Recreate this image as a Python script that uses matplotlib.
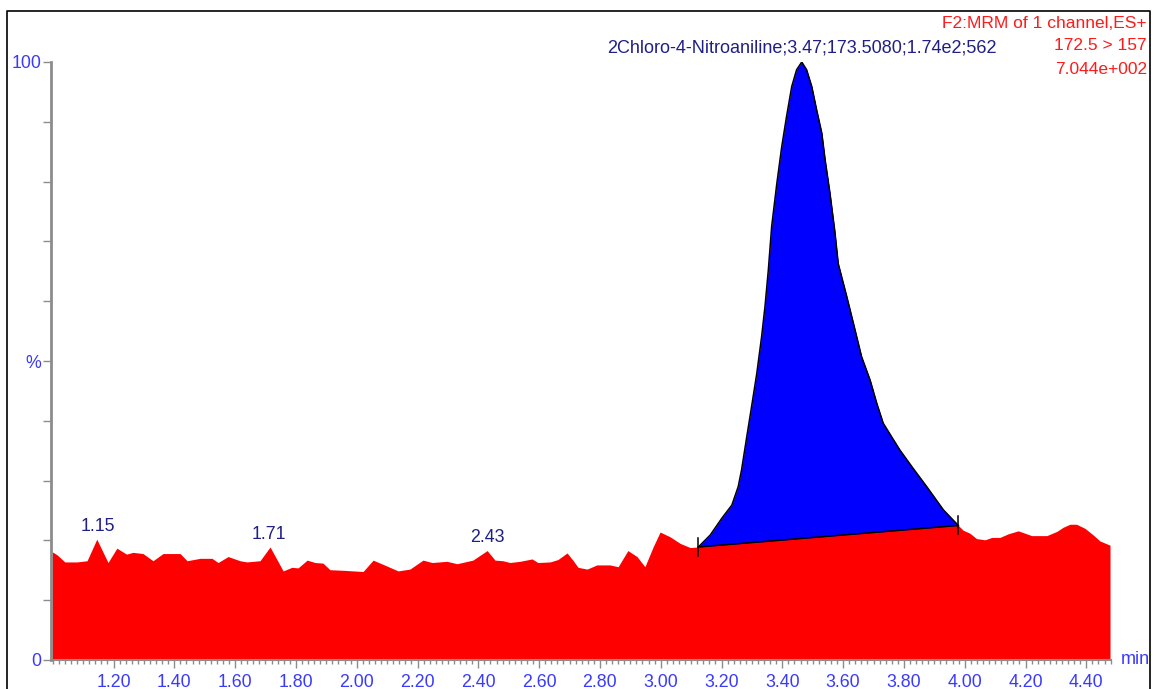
"""MRM chromatogram of 2-chloro-4-nitroaniline with integrated peak."""
import matplotlib
matplotlib.use("Agg")
import matplotlib.pyplot as plt
import numpy as np
from matplotlib.lines import Line2D

plt.rcParams["font.family"] = ["Liberation Sans", "DejaVu Sans"]

# retention time (min) and relative intensity (%)
rt = [0.998, 1.014, 1.040, 1.080, 1.113, 1.145, 1.182, 1.211, 1.243, 1.264,
      1.297, 1.330, 1.363, 1.419, 1.442, 1.485, 1.524, 1.544, 1.577, 1.616,
      1.639, 1.682, 1.715, 1.758, 1.787, 1.807, 1.837, 1.863, 1.889, 1.912,
      1.955, 2.021, 2.054, 2.100, 2.136, 2.175, 2.218, 2.248, 2.297, 2.330,
      2.382, 2.429, 2.455, 2.481, 2.504, 2.537, 2.577, 2.596, 2.636, 2.662,
      2.692, 2.711, 2.728, 2.758, 2.790, 2.833, 2.860, 2.892, 2.922, 2.948,
      2.975, 2.998, 3.031, 3.064, 3.097, 3.124, 3.163, 3.201, 3.234, 3.255,
      3.266, 3.283, 3.299, 3.316, 3.332, 3.343, 3.354, 3.365, 3.382, 3.398,
      3.414, 3.431, 3.447, 3.464, 3.480, 3.497, 3.513, 3.530, 3.541, 3.557,
      3.573, 3.584, 3.612, 3.634, 3.661, 3.689, 3.711, 3.732, 3.760, 3.787,
      3.831, 3.875, 3.930, 3.979, 3.995, 4.017, 4.039, 4.067, 4.089, 4.116,
      4.143, 4.176, 4.204, 4.220, 4.270, 4.303, 4.324, 4.346, 4.368, 4.396,
      4.423, 4.445, 4.478]
intensity = [18.1, 17.6, 16.4, 16.4, 16.6, 20.2, 16.3, 18.7, 17.7, 18.0,
             17.8, 16.6, 17.8, 17.8, 16.6, 17.0, 17.0, 16.3, 17.3, 16.6,
             16.4, 16.6, 18.9, 14.9, 15.5, 15.4, 16.7, 16.3, 16.2, 15.1,
             15.0, 14.8, 16.7, 15.7, 14.9, 15.2, 16.7, 16.3, 16.5, 16.1,
             16.7, 18.3, 16.7, 16.6, 16.3, 16.5, 16.9, 16.3, 16.4, 16.8,
             17.9, 16.7, 15.5, 15.2, 15.9, 15.9, 15.6, 18.3, 17.3, 15.6,
             18.9, 21.4, 20.6, 19.5, 18.8, 18.9, 20.9, 23.7, 25.9, 29.0,
             31.8, 37.3, 42.4, 47.9, 54.1, 59.1, 65.2, 72.5, 79.7, 85.8,
             90.9, 95.9, 98.7, 100.0, 98.7, 95.9, 92.0, 88.1, 83.6, 78.0,
             71.6, 66.3, 60.8, 56.3, 50.7, 46.8, 42.9, 39.6, 37.3, 35.1,
             32.0, 29.0, 25.1, 22.5, 21.7, 21.2, 20.3, 20.1, 20.5, 20.5,
             21.1, 21.6, 21.1, 20.8, 20.8, 21.5, 22.2, 22.7, 22.7, 22.0,
             20.9, 19.9, 19.2]

# integration limits (min) and baseline heights (%)
peak_start, peak_end = 3.124, 3.979
base_start, base_end = 18.9, 22.5

# labelled minor peaks
minor_rt = [1.15, 1.71, 2.43]
minor_height = [20.2, 18.9, 18.3]

peak_label = "2Chloro-4-Nitroaniline;3.47;173.5080;1.74e2;562"
header = ["F2:MRM of 1 channel,ES+", "172.5 > 157", "7.044e+002"]

x_major = np.round(np.arange(1.2, 4.41, 0.2), 2)

TRACE_RED = "#ff0000"
PEAK_BLUE = "#0000ff"
LABEL_NAVY = "#1f1f86"
TICK_BLUE = "#3a3aff"
AXIS_GREY = "#8c8c8c"
FS = 12.8

W, H = 1157, 689
fig = plt.figure(figsize=(W / 100, H / 100), dpi=100)

xlim = (0.995, 4.482)
px_per_min = 304.0
left_px = 113.5 + (xlim[0] - 1.2) * px_per_min
right_px = 113.5 + (xlim[1] - 1.2) * px_per_min
ax = fig.add_axes([left_px / W, 1 - 660 / H, (right_px - left_px) / W, (660 - 62) / H])
ax.set_xlim(*xlim)
ax.set_ylim(0, 100)

t = np.array(rt)
y = np.array(intensity)
ax.fill_between(t, 0, y, color=TRACE_RED, linewidth=0, zorder=1)

# integrated area above the drawn baseline
in_peak = (t >= peak_start) & (t <= peak_end)
tp, yp = t[in_peak], y[in_peak]
base = np.interp(tp, [peak_start, peak_end], [base_start, base_end])
ax.fill_between(tp, base, yp, color=PEAK_BLUE, linewidth=0, zorder=2)
ax.plot(tp, yp, color="black", lw=1.1, zorder=3)
ax.plot([peak_start, peak_end], [base_start, base_end], color="black", lw=1.1, zorder=3)
for xe, ye in [(peak_start, base_start), (peak_end, base_end)]:
    ax.plot([xe, xe], [ye - 1.5, ye + 1.5], color="black", lw=1.1, zorder=3)

ax.annotate(peak_label, (3.464, 100.0), xytext=(0, 4), textcoords="offset points",
            ha="center", va="bottom", fontsize=13, color=LABEL_NAVY,
            annotation_clip=False)
for xr, yh in zip(minor_rt, minor_height):
    ax.annotate(f"{xr:.2f}", (xr, yh), xytext=(0, 3), textcoords="offset points",
                ha="center", va="bottom", fontsize=FS, color=LABEL_NAVY)

# axes styling
for side in ("top", "right"):
    ax.spines[side].set_visible(False)
ax.spines["left"].set_color(AXIS_GREY)
ax.spines["left"].set_linewidth(2)
ax.spines["bottom"].set_color(AXIS_GREY)
ax.spines["bottom"].set_linewidth(1.5)

ax.set_yticks(np.arange(0, 101, 10))
ax.set_yticklabels(["0", "", "", "", "", "%", "", "", "", "", "100"])
ax.tick_params(axis="y", length=6, width=1, color=AXIS_GREY, labelcolor=TICK_BLUE,
               labelsize=FS, pad=1)

ax.set_xticks(x_major)
ax.set_xticklabels([f"{v:.2f}" for v in x_major])
ax.set_xticks(np.round(np.arange(1.0, 4.49, 0.02), 2), minor=True)
ax.tick_params(axis="x", which="major", length=6, width=1, color=AXIS_GREY,
               labelcolor=TICK_BLUE, labelsize=FS, pad=4)
ax.tick_params(axis="x", which="minor", length=3, width=1, color=AXIS_GREY)
ax.text(1.009, 0.0, "min", transform=ax.transAxes, ha="left", va="center",
        fontsize=13, color=TICK_BLUE)

# acquisition header, right aligned
for i, line in enumerate(header):
    fig.text(1147 / W, 1 - (23 + 23 * i) / H, line, ha="right", va="center",
             fontsize=12.5, color="#ff1a1a")

# frame around the trace window
frame_x = [7 / W, 7 / W, 1150 / W, 1150 / W]
frame_y = [-0.01, 1 - 11 / H, 1 - 11 / H, -0.01]
fig.add_artist(Line2D(frame_x, frame_y, color="black", lw=1.2))

fig.savefig("out.png", dpi=100)
